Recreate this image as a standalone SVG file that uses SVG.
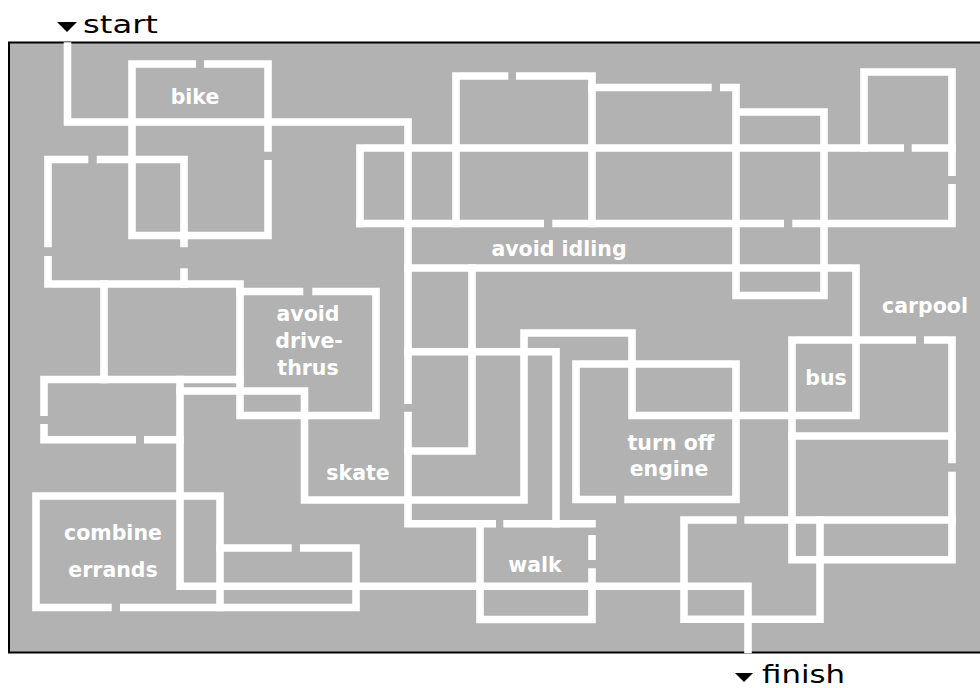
<svg xmlns="http://www.w3.org/2000/svg" width="980" height="688" viewBox="0 0 980 688">
<style>
.wall{fill:none;stroke:#ffffff;stroke-width:7.6;stroke-linecap:square;stroke-linejoin:miter}
.lbl{fill:#ffffff;font-family:"DejaVu Sans","Liberation Sans",sans-serif;font-weight:bold;font-size:20.5px;text-anchor:middle}
.io{fill:#000000;font-family:"DejaVu Sans","Liberation Sans",sans-serif;font-size:24px}
</style>
<rect x="0" y="0" width="980" height="688" fill="#ffffff"/>
<rect id="board" x="9" y="42.5" width="990" height="610" fill="#b2b2b2" stroke="#000000" stroke-width="2"/>
<g id="walls" class="wall">
<path d="M67.5,46 V122 H408 V400.2"/>
<path d="M408,415.5 V523.7 H492.2"/>
<path d="M507.1,523.7 H592"/>
<path d="M480,523.7 V619.5 H592 V572.1"/>
<path d="M592,538.8 V556.2"/>
<path d="M180,379.5 V586.3 H748 V649.5"/>
<path d="M360,223.5 V148 H900.2"/>
<path d="M915.5,148 H952"/>
<path d="M360,223.5 H540.2"/>
<path d="M556.1,223.5 H780.2"/>
<path d="M796.1,223.5 H952 V187.8"/>
<path d="M952,172.2 V72 H864 V148"/>
<path d="M456,223.5 V76 H504.5"/>
<path d="M519.8,76 H592 V223.5"/>
<path d="M592,87.5 H707.9"/>
<path d="M723.8,87.5 H736 V295.5 H824 V112 H736"/>
<path d="M408,268 H856 V415.5 H632 V333 H524 V500 H304.5 V391 H180"/>
<path d="M408,351.7 H556 V523.7"/>
<path d="M472,268 V451 H408"/>
<path d="M612.2,499.5 H576 V364 H736 V499.5 H628.1"/>
<path d="M912.2,340 H792 V559.7 H952 V475.5"/>
<path d="M927.8,340 H952 V459.5"/>
<path d="M792,436 H952"/>
<path d="M732.9,520 H684 V619.3 H820 V520"/>
<path d="M748.1,520 H952"/>
<path d="M192.2,64 H132 V235.5 H268 V163.8"/>
<path d="M207.8,64 H268 V147.9"/>
<path d="M48,243.5 V159.5 H84.5"/>
<path d="M100.5,159.5 H184 V243.5"/>
<path d="M48,259.8 V284 H240 V415.5 H376 V291.5 H316.1"/>
<path d="M240,291.5 H299.5"/>
<path d="M184,272.1 V284"/>
<path d="M104,284 V379.5"/>
<path d="M44,412.2 V379.5 H240"/>
<path d="M44,427.8 V439.7 H132.2"/>
<path d="M147.8,439.7 H180"/>
<path d="M107.9,607.5 H36 V496 H220 V607.5"/>
<path d="M123.8,607.5 H356 V548 H303.8"/>
<path d="M287.9,548 H220"/>
</g>
<g id="labels" class="lbl">
<text x="195" y="104">bike</text>
<text x="559" y="256">avoid idling</text>
<text x="308" y="321">avoid</text>
<text x="309" y="348">drive-</text>
<text x="308" y="375">thrus</text>
<text x="358" y="480">skate</text>
<text x="113" y="540">combine</text>
<text x="113" y="577">errands</text>
<text x="535" y="572">walk</text>
<text x="671" y="450">turn off</text>
<text x="669" y="476">engine</text>
<text x="826" y="385">bus</text>
<text x="925" y="313">carpool</text>
</g>
<g id="start">
<polygon points="57,22 77,22 67,32" fill="#000000"/>
<text class="io" x="83" y="33" textLength="75" lengthAdjust="spacingAndGlyphs">start</text>
</g>
<g id="finish">
<polygon points="735,673 753,673 744,682" fill="#000000"/>
<text class="io" x="762" y="683" textLength="83" lengthAdjust="spacingAndGlyphs">finish</text>
</g>
</svg>
